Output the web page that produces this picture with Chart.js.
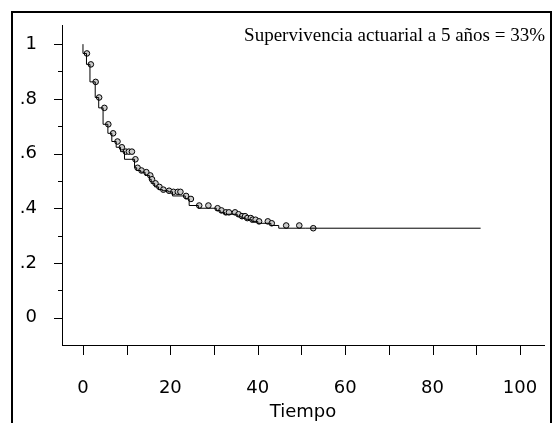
<!DOCTYPE html>
<html>
<head>
<meta charset="utf-8">
<script src="https://cdn.jsdelivr.net/npm/chart.js@4.4.1/dist/chart.umd.min.js"></script>
<style>
    html, body {margin: 0; padding: 0; background: #fff; overflow: hidden;}
    #frame {position: absolute; left: 11px; top: 11px; width: 537px; height: 500px;
        border: 2px solid #000; border-bottom: none;}
    #wrap {position: absolute; left: 0; top: 0; width: 553px; height: 423px;}
</style>
</head>
<body>
<div id="frame"></div>
<div id="wrap"><canvas id="kmChart" width="553" height="423"></canvas></div>
<script>
// 생존곡선 계단 (시간, 생존율)
const stepTimes = [0, 0.8, 1.6, 2.8, 3.6, 4.6, 5.7, 6.6, 7.6, 8.6, 9.5, 11.8, 12.3, 13.2, 14.2, 15.2, 15.6,
    16.4, 17.3, 18.2, 19.5, 20.5, 23.4, 24.3, 26.4, 30.5, 31.4, 32.4, 35.3, 36.2, 37.3, 38.6, 40.0,
    43.0, 44.8, 51.0, 91];
const stepSurv = [1, 0.966, 0.926, 0.862, 0.805, 0.767, 0.707, 0.674, 0.644, 0.623, 0.607, 0.579, 0.548,
    0.538, 0.532, 0.52, 0.506, 0.491, 0.478, 0.468, 0.464, 0.46, 0.445, 0.434, 0.41, 0.4, 0.392, 0.385,
    0.378, 0.371, 0.364, 0.358, 0.352, 0.345, 0.337, 0.327, 0.327];

// 중도절단 표시 (원)
const censorTimes = [0.9, 1.8, 2.9, 3.7, 4.9, 5.8, 6.9, 7.9, 8.9, 9.8, 10.5, 11.2, 12.0, 12.5, 13.4, 14.5,
    15.4, 15.8, 16.6, 17.5, 18.4, 19.7, 20.7, 21.7, 22.3, 23.6, 24.7, 26.6, 28.7, 30.8, 31.7, 32.7, 33.4,
    34.8, 35.6, 36.4, 37.1, 37.6, 38.4, 38.8, 39.5, 40.3, 42.3, 43.2, 46.5, 49.5, 52.7];
const censorSurv = [0.966, 0.926, 0.862, 0.805, 0.767, 0.707, 0.674, 0.644, 0.623, 0.607, 0.607, 0.607,
    0.579, 0.548, 0.538, 0.532, 0.52, 0.506, 0.491, 0.478, 0.468, 0.464, 0.46, 0.46, 0.46, 0.445, 0.434,
    0.41, 0.41, 0.4, 0.392, 0.385, 0.385, 0.385, 0.378, 0.371, 0.371, 0.364, 0.364, 0.358, 0.358, 0.352,
    0.352, 0.345, 0.337, 0.337, 0.327];

// 축 눈금
const xTicks = [0, 20, 40, 60, 80, 100];
const xTickLabels = ['0', '20', '40', '60', '80', '100'];
const xMinorTicks = [10, 30, 50, 70, 90];
const yTicks = [0, 0.2, 0.4, 0.6, 0.8, 1];
const yTickLabels = ['0', '.2', '.4', '.6', '.8', '1'];
const yMinorTicks = [0.1, 0.3, 0.5, 0.7, 0.9];

const noteText = 'Supervivencia actuarial a 5 años = 33%';

// 눈금선 + 주석 텍스트 직접 그리기
const tickPlugin = {
    id: 'tickMarks',
    afterDraw(chart) {
        const c = chart.ctx;
        const xs = chart.scales.x, ys = chart.scales.y;
        const area = chart.chartArea;
        c.save();
        c.strokeStyle = '#000';
        c.lineWidth = 1;
        c.beginPath();
        [...xTicks, ...xMinorTicks].forEach(v => {
            const px = Math.round(xs.getPixelForValue(v)) + 0.5;
            c.moveTo(px, area.bottom);
            c.lineTo(px, area.bottom + 10);
        });
        yTicks.forEach(v => {
            const py = Math.round(ys.getPixelForValue(v)) + 0.5;
            c.moveTo(area.left - 8, py);
            c.lineTo(area.left, py);
        });
        yMinorTicks.forEach(v => {
            const py = Math.round(ys.getPixelForValue(v)) + 0.5;
            c.moveTo(area.left - 4, py);
            c.lineTo(area.left, py);
        });
        c.stroke();

        c.fillStyle = '#000';
        c.font = '19px "Liberation Serif", serif';
        c.textAlign = 'right';
        c.textBaseline = 'alphabetic';
        c.fillText(noteText, 545, 41);
        c.restore();
    }
};

const ctx = document.getElementById('kmChart').getContext('2d');

new Chart(ctx, {
    type: 'line',
    data: {
        datasets: [
            {
                label: 'KM',
                data: stepTimes.map((t, i) => ({x: t, y: stepSurv[i]})),
                stepped: 'after',
                borderColor: '#000',
                borderWidth: 1,
                pointRadius: 0,
                fill: false,
            },
            {
                label: 'censored',
                data: censorTimes.map((t, i) => ({x: t, y: censorSurv[i]})),
                showLine: false,
                pointStyle: 'circle',
                pointRadius: 2.8,
                pointBorderWidth: 1,
                pointBorderColor: '#000',
                pointBackgroundColor: '#ccc',
            },
        ],
    },
    options: {
        responsive: false,
        animation: false,
        devicePixelRatio: 1,
        layout: {padding: {left: 12, top: 25, right: 9, bottom: 0}},
        plugins: {
            legend: {display: false},
            tooltip: {enabled: false},
        },
        scales: {
            x: {
                type: 'linear',
                min: -4.8,
                max: 105.5,
                afterFit: (s) => { s.height = 78; s.paddingLeft = 0; s.paddingRight = 0; },
                afterBuildTicks: (s) => { s.ticks = xTicks.map(v => ({value: v})); },
                ticks: {
                    autoSkip: false,
                    maxRotation: 0,
                    padding: 25,
                    color: '#000',
                    font: {family: '"DejaVu Sans"', size: 18},
                    callback: (v) => xTickLabels[xTicks.indexOf(v)],
                },
                grid: {display: false},
                border: {display: true, color: '#000', width: 1},
                title: {
                    display: true,
                    text: 'Tiempo',
                    color: '#000',
                    font: {family: '"DejaVu Sans"', size: 18},
                    padding: 0,
                },
            },
            y: {
                type: 'linear',
                min: -0.1,
                max: 1.07,
                afterFit: (s) => { s.width = 50; s.paddingTop = 0; s.paddingBottom = 0; },
                afterBuildTicks: (s) => { s.ticks = yTicks.map(v => ({value: v})); },
                ticks: {
                    autoSkip: false,
                    padding: 17,
                    color: '#000',
                    font: {family: '"DejaVu Sans"', size: 18},
                    callback: (v) => yTickLabels[yTicks.indexOf(v)],
                },
                grid: {display: false},
                border: {display: true, color: '#000', width: 1},
            },
        },
    },
    plugins: [tickPlugin],
});
</script>
</body>
</html>
